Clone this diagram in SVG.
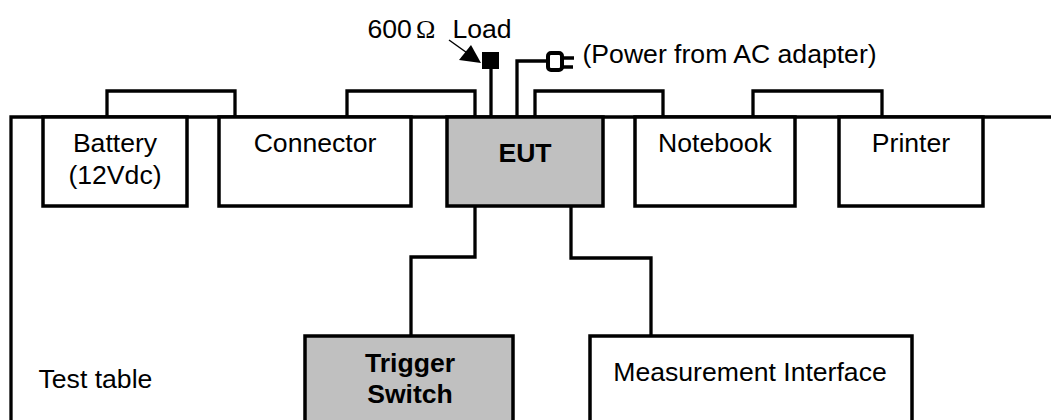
<svg xmlns="http://www.w3.org/2000/svg" width="1051" height="420" viewBox="0 0 1051 420">
<style>
text{font-family:"Liberation Sans",Arial,sans-serif;font-size:26.6px;fill:#000}
.b{font-weight:bold}
.m{text-anchor:middle}
.box{fill:#fff;stroke:#000;stroke-width:3.5}
.gray{fill:#c0c0c0}
.w{fill:none;stroke:#000;stroke-width:3.3;stroke-linejoin:miter}
</style>
<rect width="1051" height="420" fill="#fff"/>
<g id="test-table">
<path class="w" d="M1051 117H11V420"/>
<text x="38.500" y="388">Test table</text>
</g>
<g id="connectors">
<path class="w" d="M107 116V91H235V116"/>
<path class="w" d="M347 116V91H475V116"/>
<path class="w" d="M535 116V91H663V116"/>
<path class="w" d="M753 116V91H882V116"/>
<path class="w" d="M491 117V62"/>
<path class="w" d="M517 117V61H547"/>
<path class="w" d="M475 206V257H411V335"/>
<path class="w" d="M571 206V258H651V335"/>
<path d="M449 40L470 55" stroke="#000" stroke-width="1.5" fill="none"/>
<path d="M481 63L459 60L471 45Z" fill="#000"/>
</g>
<g id="battery"><rect class="box" x="43" y="117" width="144" height="89"/><text class="m" x="115" y="152">Battery</text><text class="m" x="115" y="184">(12Vdc)</text></g>
<g id="connector"><rect class="box" x="219" y="117" width="192" height="89"/><text class="m" x="315" y="152">Connector</text></g>
<g id="eut"><rect class="box gray" x="447" y="117" width="156" height="89"/><text class="m b" x="525" y="162">EUT</text></g>
<g id="notebook"><rect class="box" x="635" y="117" width="160" height="89"/><text class="m" x="715" y="152">Notebook</text></g>
<g id="printer"><rect class="box" x="839" y="117" width="144" height="89"/><text class="m" x="911" y="152">Printer</text></g>
<g id="trigger-switch"><rect class="box gray" x="305" y="336" width="208" height="90"/><text class="m b" x="410" y="372">Trigger</text><text class="m b" x="410" y="403">Switch</text></g>
<g id="measurement-interface"><rect class="box" x="590" y="336" width="322" height="90"/><text class="m" x="750" y="381">Measurement Interface</text></g>
<g id="load-label"><text x="367.500" y="38">600</text><text x="416" y="38" style="font-family:'Liberation Serif',serif;font-size:26px">Ω</text><text x="452.500" y="38">Load</text></g>
<g id="load"><rect x="482" y="52" width="17" height="17" fill="#000"/></g>
<g id="plug">
<rect x="548" y="53" width="14" height="17" rx="3" fill="#fff" stroke="#000" stroke-width="4"/>
<path class="w" d="M562 58H574M562 67H573"/>
<text x="582.500" y="63">(Power from AC adapter)</text>
</g>
</svg>
